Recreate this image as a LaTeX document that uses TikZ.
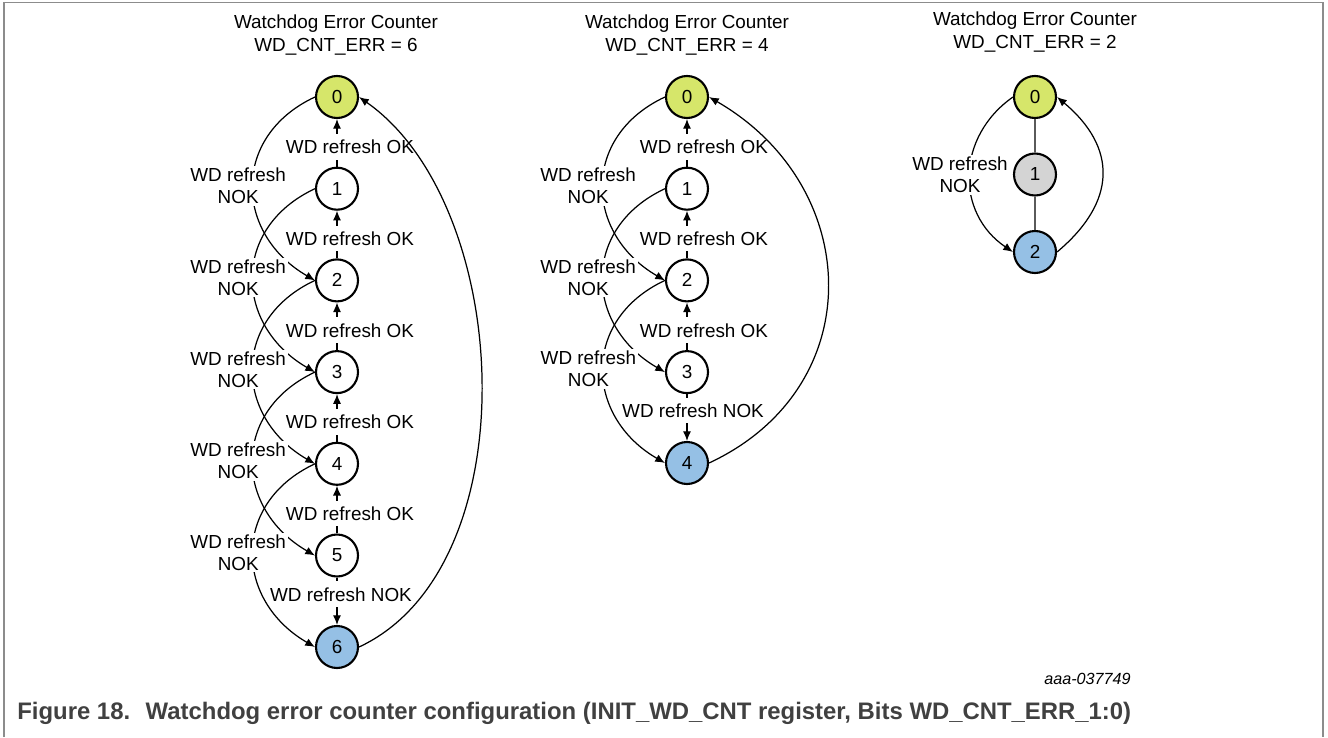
\documentclass[tikz,border=0pt]{standalone}
\usepackage{fontspec}
\setmainfont{Liberation Sans}
\usetikzlibrary{arrows.meta}
\definecolor{okgreen}{RGB}{214,230,106}
\definecolor{errblue}{RGB}{149,192,229}
\definecolor{idlegray}{RGB}{212,212,212}
\definecolor{linkgray}{RGB}{90,90,90}
\definecolor{framegray}{RGB}{140,140,140}
\definecolor{captiongray}{RGB}{64,64,64}
\begin{document}
\begin{tikzpicture}[x=0.02cm, y=0.02cm, >={Latex[length=5.5pt,width=4.6pt]},
        font=\fontsize{10.75}{12.6}\selectfont,
        state/.style={circle, draw, line width=1.2pt, minimum size=0.84cm, inner sep=0pt},
        trans/.style={->, line width=0.7pt},
        vlbl/.style={fill=white, yshift=-0.08cm},
        noklbl/.style={fill=white, inner sep=1pt, align=center},
        title/.style={align=center}]
        \useasboundingbox (0,0) rectangle (1328,-737);
        \draw[framegray, line width=0.8pt] (4,-737) -- (4,-2.5) -- (1323,-2.5) -- (1323,-737);

        \node[title] (t6) at (336,-35) {Watchdog Error Counter\\WD\_CNT\_ERR = 6};
        \node[state, fill=okgreen] (a0) at (337,-97) {0};
        \foreach \i in {1,...,5} {
            \node[state] (a\i) at (337,-97-91.7*\i) {\i};
        }
        \node[state, fill=errblue] (a6) at (337,-647) {6};
        \foreach \i [remember=\i as \j (initially 0)] in {1,...,5} {
            \draw[trans] (a\i) -- node[vlbl, xshift=0.26cm] {WD refresh OK} (a\j);
        }
        \draw[trans] (a5) -- node[vlbl, xshift=0.08cm, yshift=0.22cm] {WD refresh NOK} (a6);
        \foreach \i [evaluate=\i as \k using int(\i+2)] in {0,...,4} {
            \draw[trans] (a\i.west) to[out=205, in=150, looseness=1.3]
                node[noklbl, xshift=-0.3cm] {WD refresh\\NOK} (a\k.west);
        }
        \draw[trans] (a6.east) to[out=25, in=-35, looseness=0.88] (a0.east);

        \node[title] (t4) at (687,-35) {Watchdog Error Counter\\WD\_CNT\_ERR = 4};
        \node[state, fill=okgreen] (b0) at (687,-97) {0};
        \foreach \i in {1,2,3} {
            \node[state] (b\i) at (687,-97-91.7*\i) {\i};
        }
        \node[state, fill=errblue] (b4) at (687,-463) {4};
        \foreach \i [remember=\i as \j (initially 0)] in {1,2,3} {
            \draw[trans] (b\i) -- node[vlbl, xshift=0.34cm] {WD refresh OK} (b\j);
        }
        \draw[trans] (b3) -- node[vlbl, xshift=0.12cm, yshift=0.22cm] {WD refresh NOK} (b4);
        \foreach \i [evaluate=\i as \k using int(\i+2)] in {0,1,2} {
            \draw[trans] (b\i.west) to[out=205, in=150, looseness=1.3]
                node[noklbl, xshift=-0.3cm] {WD refresh\\NOK} (b\k.west);
        }
        \draw[trans] (b4.east) to[out=25, in=-30, looseness=1.25] (b0.east);

        \node[title] (t2) at (1035,-32) {Watchdog Error Counter\\WD\_CNT\_ERR = 2};
        \node[state, fill=okgreen] (c0) at (1035,-97) {0};
        \node[state, fill=idlegray] (c1) at (1035,-174.5) {1};
        \node[state, fill=errblue] (c2) at (1035,-252) {2};
        \draw[linkgray, line width=1pt] (c0) -- (c1) -- (c2);
        \draw[trans] (c0.west) to[out=215, in=146, looseness=1.15]
            node[noklbl, xshift=-0.2cm] {WD refresh\\NOK} (c2.west);
        \draw[trans] (c2.east) to[out=40, in=-40, looseness=1.3] (c0.east);

        \node[anchor=east, inner sep=0pt, font=\fontsize{9.2}{11}\selectfont\itshape] (docid) at (1131,-679) {aaa-037749};
        \node[anchor=west, inner sep=0pt, text=captiongray, font=\fontsize{13.6}{15}\selectfont\bfseries] (caption) at (17,-713)
            {Figure 18.~ Watchdog error counter configuration (INIT\_WD\_CNT register, Bits WD\_CNT\_ERR\_1:0)};
\end{tikzpicture}
\end{document}
